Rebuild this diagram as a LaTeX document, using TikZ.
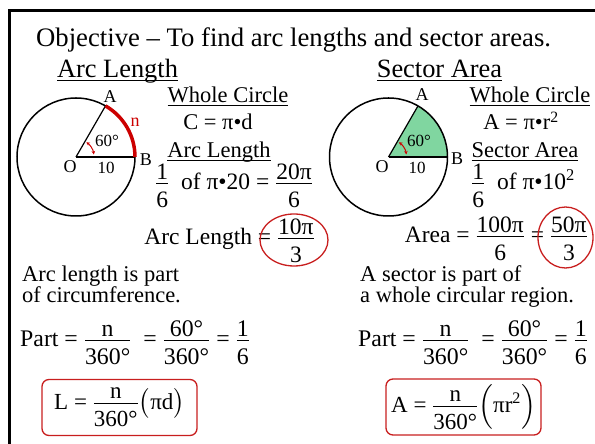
\documentclass[tikz,border=0pt]{standalone}
\usepackage{amsmath}
\usepackage{fontspec}
\setmainfont{Liberation Serif}
\usepackage{tikz}
\usetikzlibrary{arrows.meta, positioning}
\definecolor{cRed}{RGB}{204,0,0}
\definecolor{cBox}{RGB}{200,30,30}
\definecolor{cSector}{RGB}{128,214,160}
\newcommand{\fr}[2]{$\dfrac{\raisebox{-6pt}[\dimexpr\height-6pt\relax][0pt]{#1}}{\text{#2}}$}
\newcommand{\ul}[1]{\setbox0\hbox{#1}\rlap{\rule[-3.5pt]{\wd0}{1.6pt}}\box0}
\tikzset{
	titletxt/.style={font=\fontsize{26.7}{28}\selectfont, anchor=base west},
	hdr/.style     ={font=\fontsize{26.4}{28}\selectfont, anchor=base},
	subhdr/.style  ={font=\fontsize{22.5}{24}\selectfont, anchor=base},
	formula/.style ={font=\fontsize{23.5}{25}\selectfont},
	lbl/.style     ={font=\fontsize{18}{20}\selectfont},
	small/.style   ={font=\fontsize{17}{19}\selectfont},
	rule/.style    ={draw=cBox, line width=1.3pt, rounded corners=7pt, minimum width=155pt, minimum height=56pt, font=\fontsize{23}{24}\selectfont},
	ring/.style    ={draw=cBox, line width=1.3pt},
	angarrow/.style={cRed, line width=1pt, {Stealth[length=3.5pt,width=3.5pt]}-{Stealth[length=3.5pt,width=3.5pt]}},
}
\begin{document}
\begin{tikzpicture}[x=1pt, y=1pt, every node/.style={font=\fontsize{22.5}{21.5}\selectfont, inner sep=0pt}]
\useasboundingbox (0,0) rectangle (595,444);
% slide frame
\draw[line width=3pt] (9,0) -- (9,433) -- (595,433);
\node[titletxt] (obj) at (36,397) {Objective – To find arc lengths and sector areas.};
\node[hdr] (hArc) at (117.5,366) {\ul{Arc Length}};
\node[hdr] (hSec) at (439.5,366) {\ul{Sector Area}};

% arc length circle
\coordinate (O1) at (76,287);
\draw[line width=1.5pt] (O1) circle[radius=59];
\draw[line width=1.2pt] (O1) -- ++(60:59) coordinate (A1);
\draw[line width=2.5pt] (O1) -- ++(0:59) coordinate (B1);
\draw[cRed, line width=3.5pt] (B1) arc[start angle=0, end angle=60, radius=59];
\draw[angarrow] ([shift={(8:18)}]O1) arc[start angle=8, end angle=55, radius=18];
\node[lbl] (lA1) at (110,347) {A};
\node[lbl, text=cRed] (ln1) at (135,322) {n};
\node[small] (lang1) at (107,303) {60°};
\node[lbl] (lO1) at (70,277) {O};
\node[small] (lr1) at (106,276) {10};
\node[lbl] (lB1) at (146,284) {B};

\node[subhdr] (whole1) at (228,341) {\ul{Whole Circle}};
\node[anchor=base] (circum) at (218,314) {C = π•d};
\node[subhdr] (arcsub) at (219,286) {\ul{Arc Length}};
\node[formula, anchor=base west] (sixth1) at (155,254) {\fr{1}{6}\ \ of π•20 = \fr{20π}{6}};
\node[formula, anchor=base east] (arcres) at (315,199) {Arc Length = \fr{10π}{3}};
\draw[ring] (294,204) ellipse[x radius=34, y radius=26];

% sector area circle
\coordinate (O2) at (388.5,287);
\fill[cSector] (O2) -- ++(0:59) arc[start angle=0, end angle=60, radius=59] -- cycle;
\draw[line width=1.5pt] (O2) circle[radius=59];
\draw[line width=1.2pt] (O2) -- ++(60:59) coordinate (A2);
\draw[line width=2.5pt] (O2) -- ++(0:59) coordinate (B2);
\draw[angarrow] ([shift={(8:18)}]O2) arc[start angle=8, end angle=55, radius=18];
\node[lbl] (lA2) at (422,349) {A};
\node[small] (lang2) at (419,303) {60°};
\node[lbl] (lO2) at (382,277) {O};
\node[small] (lr2) at (417,276) {10};
\node[lbl] (lB2) at (457,285) {B};

\node[subhdr] (whole2) at (530,341) {\ul{Whole Circle}};
\node[anchor=base] (disc) at (521,314) {A = π•r\textsuperscript{2}};
\node[subhdr] (secsub) at (525,286) {\ul{Sector Area}};
\node[formula, anchor=base west] (sixth2) at (471,254) {\fr{1}{6}\ \ of π•10\textsuperscript{2}};
\node[formula, anchor=base east] (secres) at (588,201) {Area = \fr{100π}{6} = \fr{50π}{3}};
\draw[ring] (565.5,206.5) ellipse[x radius=27.5, y radius=30.5];

% bottom notes
\node[anchor=base west, align=left] (noteL) at (22,141) {Arc length is part\\of circumference.};
\node[anchor=base west, align=left] (noteR) at (360,141) {A sector is part of\\a whole circular region.};
\node[formula, font=\fontsize{23.8}{25}\selectfont, anchor=base west] (partL) at (20,97) {Part = \fr{n}{360°}\ \ = \fr{60°}{360°} = \fr{1}{6}};
\node[formula, font=\fontsize{23.8}{25}\selectfont, anchor=base west] (partR) at (358,97) {Part = \fr{n}{360°}\ \ = \fr{60°}{360°} = \fr{1}{6}};
\node[rule] (formL) at (119.5,36.5) {L = \fr{n}{360°}$\bigl(\text{πd}\bigr)$};
\node[rule] (formR) at (463.5,37) {A = \fr{n}{360°}$\Bigl(\text{πr}^{\text{2}}\Bigr)$};
\end{tikzpicture}
\end{document}
